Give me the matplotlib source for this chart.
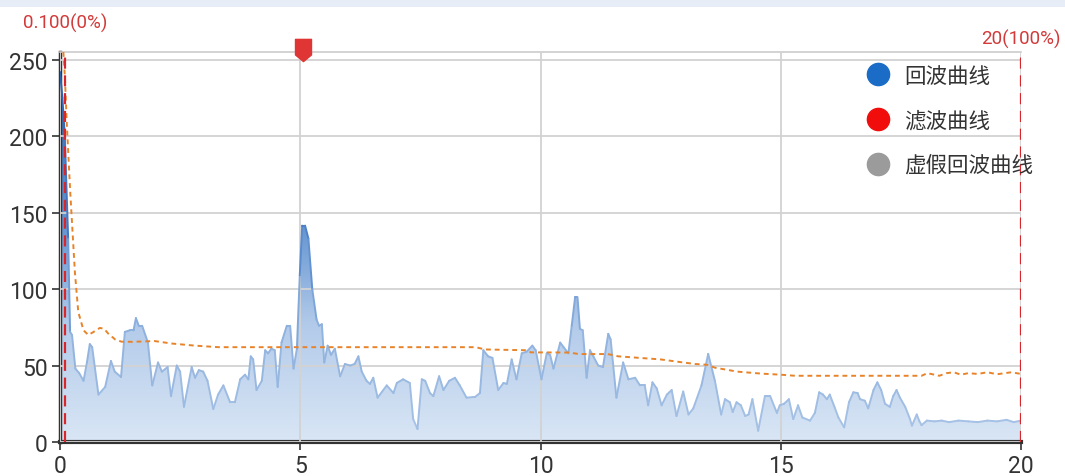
import numpy as np
import matplotlib
matplotlib.use("Agg")
import matplotlib.pyplot as plt
from matplotlib.colors import LinearSegmentedColormap
from matplotlib.collections import LineCollection
from matplotlib.path import Path
from matplotlib.patches import PathPatch, Rectangle
from matplotlib.lines import Line2D

# echo curve (回波曲线)
echo_x = [0, 0.05, 0.10, 0.17, 0.21, 0.25, 0.32, 0.40, 0.49, 0.56, 0.62, 0.67, 0.80, 0.94, 1.06, 1.14,
          1.27, 1.35, 1.45, 1.53, 1.58, 1.64, 1.71, 1.83, 1.92, 2.04, 2.12, 2.24, 2.31, 2.43, 2.50, 2.58,
          2.74, 2.81, 2.89, 2.98, 3.07, 3.19, 3.29, 3.40, 3.54, 3.64, 3.75, 3.85, 3.92, 3.97, 4.02, 4.09,
          4.20, 4.27, 4.33, 4.40, 4.47, 4.53, 4.61, 4.72, 4.79, 4.86, 4.93, 4.99, 5.04, 5.10, 5.17, 5.25,
          5.34, 5.39, 5.45, 5.50, 5.57, 5.64, 5.72, 5.83, 5.93, 6.04, 6.13, 6.21, 6.28, 6.38, 6.45, 6.52,
          6.61, 6.80, 6.94, 7.01, 7.14, 7.28, 7.35, 7.44, 7.53, 7.60, 7.70, 7.77, 7.89, 7.98, 8.10, 8.22,
          8.32, 8.46, 8.64, 8.74, 8.81, 8.91, 9.00, 9.12, 9.23, 9.30, 9.40, 9.50, 9.61, 9.71, 9.83, 9.90,
          10.02, 10.13, 10.20, 10.27, 10.41, 10.48, 10.58, 10.65, 10.72, 10.77, 10.82, 10.88, 10.96, 11.03,
          11.10, 11.20, 11.30, 11.41, 11.46, 11.58, 11.72, 11.83, 11.97, 12.07, 12.17, 12.24, 12.33, 12.42,
          12.52, 12.63, 12.73, 12.83, 12.97, 13.08, 13.18, 13.35, 13.49, 13.63, 13.76, 13.84, 13.94, 14.00,
          14.08, 14.17, 14.26, 14.33, 14.41, 14.53, 14.67, 14.78, 14.92, 14.98, 15.07, 15.17, 15.26, 15.36,
          15.45, 15.61, 15.71, 15.80, 15.88, 15.96, 16.02, 16.13, 16.20, 16.32, 16.42, 16.51, 16.60, 16.65,
          16.75, 16.82, 16.93, 17.01, 17.09, 17.17, 17.27, 17.34, 17.41, 17.48, 17.59, 17.69, 17.73, 17.83,
          17.88, 17.93, 18.04, 18.20, 18.35, 18.50, 18.70, 18.90, 19.10, 19.30, 19.50, 19.70, 19.85, 20.0]
echo_y = [242, 225, 200, 133, 72, 70, 48, 45, 40, 52, 64, 62, 31, 36, 53, 46,
          42.5, 72, 73, 73, 81, 76, 76, 65, 37, 52, 46, 49, 30, 50, 46, 23,
          49, 42, 47, 46, 40, 21.6, 31, 37, 26, 26, 41, 44, 41, 56, 54, 34,
          40, 60, 58, 61, 60, 36, 65, 76, 76, 48, 61, 109, 141.5, 141.5, 133, 100,
          80, 76, 77, 52, 63, 57, 61, 43, 51, 50, 51, 56, 46, 40, 38, 42,
          29, 37, 32, 38.6, 41, 38.6, 15, 8.5, 41, 40, 32, 30, 43, 34, 40, 42,
          37, 29, 29.5, 32, 60, 56, 55, 34, 38.6, 38, 54, 41, 58, 59, 63, 60,
          41, 58, 57, 48, 65, 62, 58, 76, 94.7, 94.7, 74, 73, 42, 60,
          56, 50, 49, 70.7, 67, 29, 52, 41, 42, 37, 37, 24, 39, 35,
          24, 31, 34, 17, 33, 18, 22, 37, 57.6, 40, 18, 28, 26, 19.6,
          26, 24, 17, 18, 28, 7.4, 30, 30, 19, 24, 25, 28, 15, 24,
          16, 14, 19, 32.5, 31, 28, 31, 22, 16, 9.6, 26, 32.5, 32, 28,
          27, 22, 34, 39, 34, 25, 23, 30, 34, 29, 23, 15, 10.7, 18,
          14, 11, 14, 13.5, 14, 13, 14, 13.5, 13, 14, 13.5, 14.5, 13, 14]

# filter curve (滤波曲线)
filt_x = [0.07, 0.10, 0.14, 0.21, 0.31, 0.38, 0.49, 0.59, 0.70, 0.83, 0.92, 1.00, 1.15, 1.28, 1.50,
          1.97, 2.32, 2.81, 3.3, 6.24, 8.0, 8.65, 8.85, 9.7, 9.8, 10.6, 10.8, 11.4, 11.62, 12.5, 12.97,
          13.22, 13.46, 13.63, 14.1, 14.6, 15.0, 15.3, 17.93, 18.05, 18.2, 18.3, 18.45, 18.6, 18.75,
          18.9, 19.1, 19.3, 19.5, 19.8, 20.0]
filt_y = [255, 240, 209, 165, 111, 85, 73, 70, 72, 74.6, 74, 71, 67, 65.6, 65.5,
          66, 64.4, 63, 62, 62, 62, 62, 60.5, 60, 58.6, 58.5, 57.5, 57.5, 56, 54, 52,
          51, 50.5, 48.6, 46, 44.7, 44, 43.3, 43.3, 45, 44, 43.3, 45, 45.6, 44,
          45, 44.5, 45.6, 44.3, 45.6, 44.5]

limit_x = [0.1, 20]
limit_labels = ["0.100(0%)", "20(100%)"]
limit_label_y = [1.077, 1.036]
flag_x = 5.06

legend_labels = ["回波曲线", "滤波曲线", "虚假回波曲线"]
legend_colors = ["#1a6cc6", "#f20d0d", "#9b9b9b"]

x_ticks = [0, 5, 10, 15, 20]
y_ticks = [0, 50, 100, 150, 200, 250]
y_max = 255

plt.rcParams['font.family'] = ['Roboto', 'DejaVu Sans']
cjk = ['Noto Sans CJK SC', 'DejaVu Sans']

fig = plt.figure(figsize=(10.65, 4.77), dpi=100)
fig.patches.append(Rectangle((0, 1 - 8 / 477), 1, 8 / 477, transform=fig.transFigure,
                             facecolor='#e6edf6', edgecolor='none'))
ax = fig.add_axes([60 / 1065, 34 / 477, 961 / 1065, 390 / 477])

# gradient fill under the echo curve
fill_cmap = LinearSegmentedColormap.from_list(
    "fill", [(0, '#d9e6f5'), (0.3, '#b3cbea'), (0.55, '#6595d2'), (1.0, '#2d62ae')])
line_cmap = LinearSegmentedColormap.from_list(
    "line", [(0, '#aac5e7'), (0.3, '#8cafdd'), (0.55, '#4a80c8'), (1.0, '#2a5ca8')])

verts = [(echo_x[0], 0)] + list(zip(echo_x, echo_y)) + [(echo_x[-1], 0)]
clip = PathPatch(Path(verts), facecolor='none', edgecolor='none')
ax.add_patch(clip)
grad = np.linspace(0, 1, 256).reshape(-1, 1)
im = ax.imshow(grad, extent=[0, 20, 0, y_max], origin='lower', aspect='auto',
               cmap=fill_cmap, zorder=1)
im.set_clip_path(clip)

ex = np.array(echo_x)
ey = np.array(echo_y)
pts = np.array([ex, ey]).T.reshape(-1, 1, 2)
segs = np.concatenate([pts[:-1], pts[1:]], axis=1)
lc = LineCollection(segs, cmap=line_cmap, norm=plt.Normalize(0, y_max), linewidth=1.4,
                    zorder=3, capstyle='round', joinstyle='round')
lc.set_array((ey[:-1] + ey[1:]) / 2)
ax.add_collection(lc)

ax.plot(filt_x, filt_y, color='#e8832a', lw=1.4, linestyle=(0, (2.5, 2)), zorder=4)

for lx, lab, ly in zip(limit_x, limit_labels, limit_label_y):
    ax.axvline(lx, color='#d9262b', lw=1.6, linestyle=(0, (5, 3)), zorder=5)
    ax.text(lx, ly, lab, transform=ax.get_xaxis_transform(), ha='center', va='center',
            color='#d23a3a', fontsize=13.5)

# flag marker on top
flag = Path([(-0.36, 0.5), (0.36, 0.5), (0.36, -0.2), (0, -0.5), (-0.36, -0.2), (-0.36, 0.5)],
            [Path.MOVETO, Path.LINETO, Path.LINETO, Path.LINETO, Path.LINETO, Path.CLOSEPOLY])
ax.plot([flag_x], [y_max + 1], marker=flag, markersize=16, color='#e03535', mec='#e03535',
        clip_on=False, zorder=6, ls='none')

ax.set_xlim(0, 20)
ax.set_ylim(0, y_max)
ax.set_xticks(x_ticks)
ax.set_yticks(y_ticks)
ax.set_axisbelow(False)
ax.grid(True, color='#d2d2d2', lw=1.3)
ax.tick_params(direction='out', length=6, width=1.2, color='#333333', labelsize=16.5,
               labelcolor='#333333', pad=3)

for s in ['left', 'bottom']:
    ax.spines[s].set_color('#333333')
ax.spines['left'].set_linewidth(2.5)
ax.spines['bottom'].set_linewidth(3)
ax.spines['top'].set_color('#cccccc')
ax.spines['top'].set_linewidth(1.2)
ax.spines['right'].set_visible(False)

handles = [Line2D([], [], marker='o', ls='none', markersize=16, markerfacecolor=c,
                  markeredgecolor=c) for c in legend_colors]
ax.legend(handles, legend_labels, loc='upper left', bbox_to_anchor=(0.84, 0.967),
          frameon=False, prop={'family': cjk, 'size': 15.5}, labelspacing=1.05,
          handletextpad=0.7, handlelength=1.0, borderpad=0, borderaxespad=0,
          labelcolor='#333333')

fig.savefig("out.png", dpi=100)
